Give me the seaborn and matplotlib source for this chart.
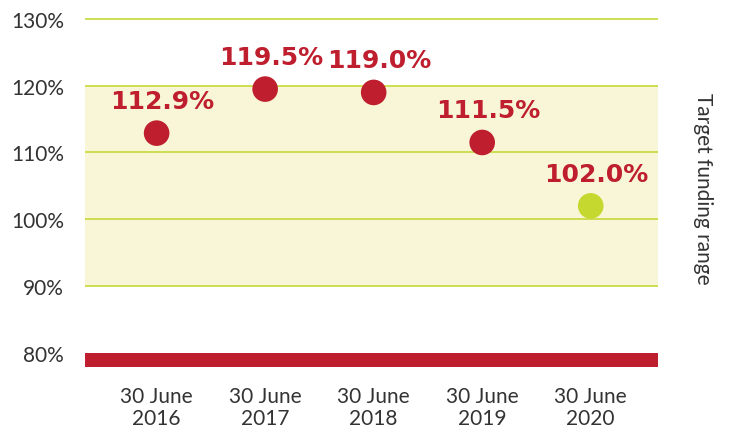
import matplotlib
matplotlib.use("Agg")
import matplotlib.pyplot as plt
import seaborn as sns
import pandas as pd

# Data
categories = ["30 June\n2016", "30 June\n2017", "30 June\n2018", "30 June\n2019", "30 June\n2020"]
funding_ratio = [112.9, 119.5, 119.0, 111.5, 102.0]
labels = ["112.9%", "119.5%", "119.0%", "111.5%", "102.0%"]
status = ["above", "above", "above", "above", "within"]
y_ticks = [80, 90, 100, 110, 120, 130]
y_tick_labels = ["80%", "90%", "100%", "110%", "120%", "130%"]
target_range = [90, 120]

RED = "#be1e2d"
GREEN = "#c4d82f"
GRID = "#c9dc45"
SHADE = "#f8f6d6"
TEXT = "#333333"

sns.set_theme(style="white")
plt.rcParams["font.family"] = ["Lato", "DejaVu Sans"]

df = pd.DataFrame({"date": categories, "ratio": funding_ratio,
                   "label": labels, "status": status})
df["x"] = range(len(df))

fig = plt.figure(figsize=(7.30, 4.31), dpi=100)
ax = fig.add_axes([85 / 730, 1 - 368 / 431, (658 - 85) / 730, (368 - 15) / 431])

ax.set_xlim(-0.66, 4.62)
ax.set_ylim(77.86, 130.75)

# target range shading
ax.axhspan(target_range[0], target_range[1], color=SHADE, zorder=0, lw=0)
# gridlines
for t in y_ticks[1:]:
    ax.axhline(t, color=GRID, lw=1.3, zorder=1)
# red floor bar
ax.axhspan(77.86, 80, color=RED, zorder=2, lw=0)

sns.scatterplot(data=df, x="x", y="ratio", hue="status",
                palette={"above": RED, "within": GREEN},
                s=340, edgecolor="none", legend=False, ax=ax, zorder=3)

for xi, yi, lab in zip(df["x"], df["ratio"], df["label"]):
    ax.annotate(lab, (xi, yi), xytext=(6, 20), textcoords="offset pixels",
                ha="center", va="bottom", fontsize=18, fontweight="bold",
                color=RED, family=["DejaVu Sans"])

ax.set_xticks(df["x"])
ax.set_xticklabels(categories, fontsize=15, color=TEXT, linespacing=1.12,
                   fontweight="normal")
ax.set_yticks(y_ticks)
ax.set_yticklabels(y_tick_labels, fontsize=15, color=TEXT, fontweight="normal")
ax.tick_params(axis="y", length=0, pad=15)
ax.tick_params(axis="x", length=0, pad=14)
ax.set_xlabel("")
ax.set_ylabel("")
for sp in ax.spines.values():
    sp.set_visible(False)

fig.text(703 / 730, 1 - 189 / 431, "Target funding range", rotation=270,
         ha="center", va="center", fontsize=15, color=TEXT, fontweight="normal")

fig.savefig("out.png", dpi=100)
